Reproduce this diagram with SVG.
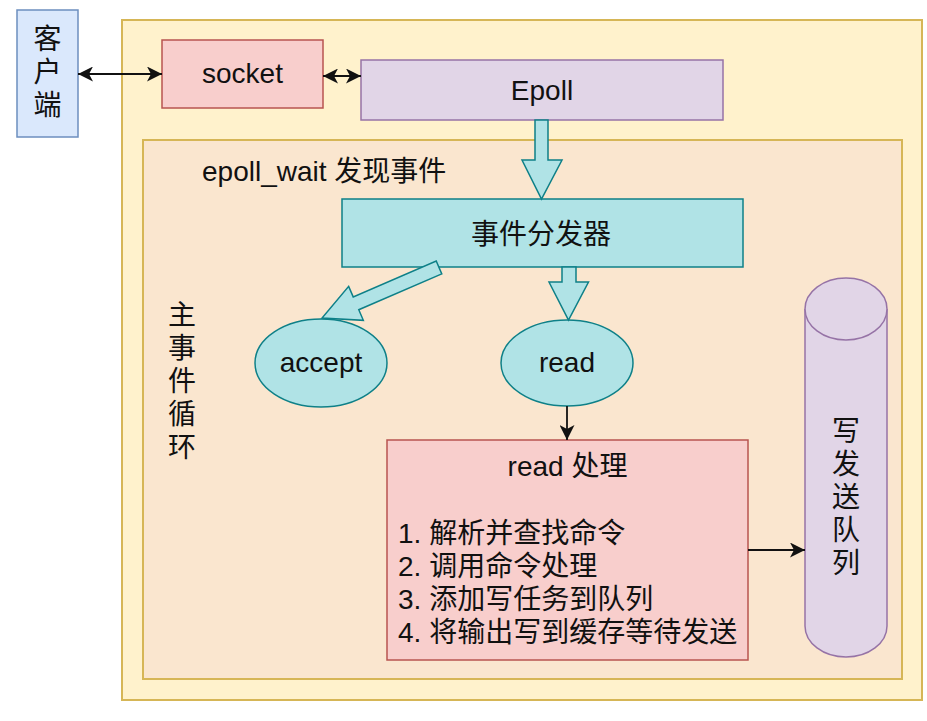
<svg xmlns="http://www.w3.org/2000/svg" width="927" height="721" viewBox="0 0 927 721">
  <style>
    .t { font-family: "Liberation Sans", "Noto Sans CJK SC", sans-serif; font-size: 28px; fill: #111111; }
    .c { text-anchor: middle; }
    .blue { fill: #dae8fc; stroke: #6c8ebf; stroke-width: 1.5; }
    .red { fill: #f8cecc; stroke: #b85450; stroke-width: 1.5; }
    .purple { fill: #e1d5e7; stroke: #9673a6; stroke-width: 1.5; }
    .teal { fill: #b0e3e6; stroke: #0e8088; stroke-width: 1.5; }
    .conn { fill: none; stroke: #111; stroke-width: 1.8; }
    .block { fill: #b0e3e6; stroke: #0e8088; stroke-width: 1.5; stroke-linejoin: miter; }
  </style>
  <defs>
    <marker id="arr" viewBox="0 0 15 15" refX="15" refY="7.5" markerWidth="15" markerHeight="15" markerUnits="userSpaceOnUse" orient="auto-start-reverse">
      <path d="M0,0 L15,7.5 L0,15 L4,7.5 Z" fill="#111"/>
    </marker>
  </defs>

  <rect width="927" height="721" fill="#ffffff"/>

  <g id="outer">
    <rect x="122" y="20" width="800" height="680" fill="#fff2cc" stroke="#d6b656" stroke-width="2"/>
  </g>
  <g id="main-loop">
    <rect x="143" y="140" width="759" height="539" fill="#fae6cf" stroke="#d6b656" stroke-width="2"/>
    <text class="t" x="202" y="181">epoll_wait 发现事件</text>
    <text class="t c" x="182" y="325">主</text>
    <text class="t c" x="182" y="358">事</text>
    <text class="t c" x="182" y="391">件</text>
    <text class="t c" x="182" y="424">循</text>
    <text class="t c" x="182" y="457">环</text>
  </g>

  <g id="client">
    <rect class="blue" x="17" y="10" width="61" height="127"/>
    <text class="t c" x="47.5" y="49">客</text>
    <text class="t c" x="47.5" y="82">户</text>
    <text class="t c" x="47.5" y="115">端</text>
  </g>

  <g id="socket">
    <rect class="red" x="162" y="40" width="161" height="68"/>
    <text class="t c" x="242.5" y="83">socket</text>
  </g>

  <g id="epoll">
    <rect class="purple" x="361" y="60" width="362" height="60"/>
    <text class="t c" x="542" y="100">Epoll</text>
  </g>

  <g id="dispatcher">
    <rect class="teal" x="342" y="199" width="401" height="68"/>
    <text class="t c" x="541" y="244">事件分发器</text>
  </g>

  <g id="accept">
    <ellipse class="teal" cx="321" cy="363" rx="66" ry="44"/>
    <text class="t c" x="321" y="372">accept</text>
  </g>

  <g id="read">
    <ellipse class="teal" cx="567" cy="363" rx="66" ry="43"/>
    <text class="t c" x="567" y="372">read</text>
  </g>

  <g id="read-process">
    <rect class="red" x="387" y="440" width="361" height="220"/>
    <text class="t c" x="567.5" y="476">read 处理</text>
    <text class="t" x="398" y="543">1. 解析并查找命令</text>
    <text class="t" x="398" y="576">2. 调用命令处理</text>
    <text class="t" x="398" y="609">3. 添加写任务到队列</text>
    <text class="t" x="398" y="642">4. 将输出写到缓存等待发送</text>
  </g>

  <g id="send-queue">
    <path class="purple" d="M805,309 A41,31 0 0,1 887,309 L887,626 A41,31 0 0,1 805,626 Z"/>
    <path class="purple" fill="none" d="M805,309 A41,31 0 0,0 887,309"/>
    <text class="t c" x="846" y="441">写</text>
    <text class="t c" x="846" y="474">发</text>
    <text class="t c" x="846" y="507">送</text>
    <text class="t c" x="846" y="540">队</text>
    <text class="t c" x="846" y="573">列</text>
  </g>

  <g id="connectors">
    <path class="conn" d="M78,74 L162,74" marker-start="url(#arr)" marker-end="url(#arr)"/>
    <path class="conn" d="M323,76 L361,76" marker-start="url(#arr)" marker-end="url(#arr)"/>
    <path class="conn" d="M567,406 L567,440" marker-end="url(#arr)"/>
    <path class="conn" d="M748,550 L805,550" marker-end="url(#arr)"/>
    <polygon class="block" points="535,120 548,120 548,160 562,160 541.5,199 522,160 535,160"/>
    <polygon class="block" points="562,267 576,267 576,282 588.5,282 568.5,320 549,282 562,282"/>
    <polygon class="block" transform="translate(439,267.5) rotate(156.65)" points="0,-7 90.4,-7 90.4,-18.5 127.4,0 90.4,18.5 90.4,7 0,7"/>
  </g>
</svg>
